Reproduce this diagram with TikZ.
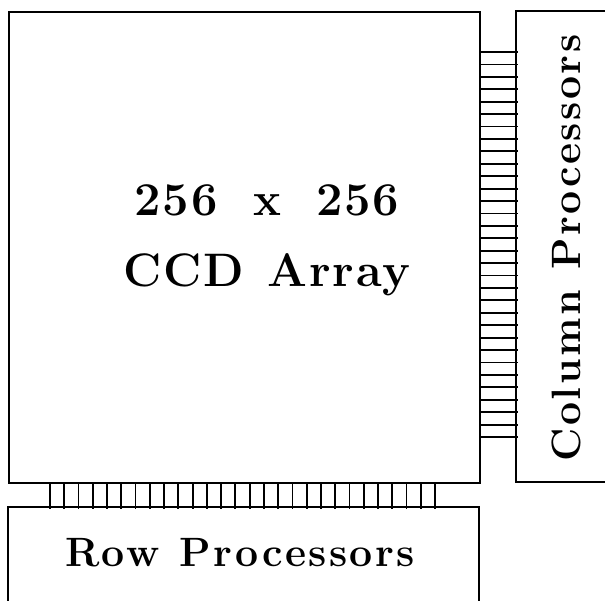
\documentclass[tikz,border=0pt]{standalone}
\usepackage{fontspec}
\setmainfont{Latin Modern Roman}
\newfontfamily\chipfont[LetterSpace=6]{Latin Modern Roman}
\newfontfamily\arrayfont[LetterSpace=4]{Latin Modern Roman}
\usepackage{tikz}

\tikzset{
  chipline/.style={line width=2.2pt},
  padline/.style={line width=1.8pt},
  arraylabel/.style={font=\arrayfont\bfseries\fontsize{47}{71}\selectfont, align=center},
  proclabel/.style={font=\chipfont\bfseries\fontsize{41}{44}\selectfont}
}

\begin{document}
\begin{tikzpicture}[x=1pt,y=-1pt]
  \useasboundingbox (0,0) rectangle (605,601);
  % sensor array
  \node[draw, chipline, anchor=north west, inner sep=0pt,
        minimum width=471pt, minimum height=471pt] (ccd) at (8,11) {};
  \node[arraylabel] (ccdtext) at (267,240) {256\hspace{0.75em}x\hspace{0.75em}256\\CCD\enspace Array};
  % processor blocks (cut off by the page edge)
  \draw[chipline] (605,11) -| (516,482) -- (605,482);
  \draw[chipline] (8,601) |- (479,507) -- (479,601);
  \node[proclabel, rotate=90] (coltext) at (566,248) {Column\enspace Processors};
  \node[proclabel] (rowtext) at (240,553) {Row\enspace Processors};
  % pad strips
  \foreach \k in {0,...,31}
    \draw[padline] (ccd.north east) ++(0,{41+\k*12.42}) -- ++(37,0);
  \foreach \k in {0,...,27}
    \draw[padline] (ccd.south west) ++({42+\k*14.26},0) -- ++(0,25);
\end{tikzpicture}
\end{document}
